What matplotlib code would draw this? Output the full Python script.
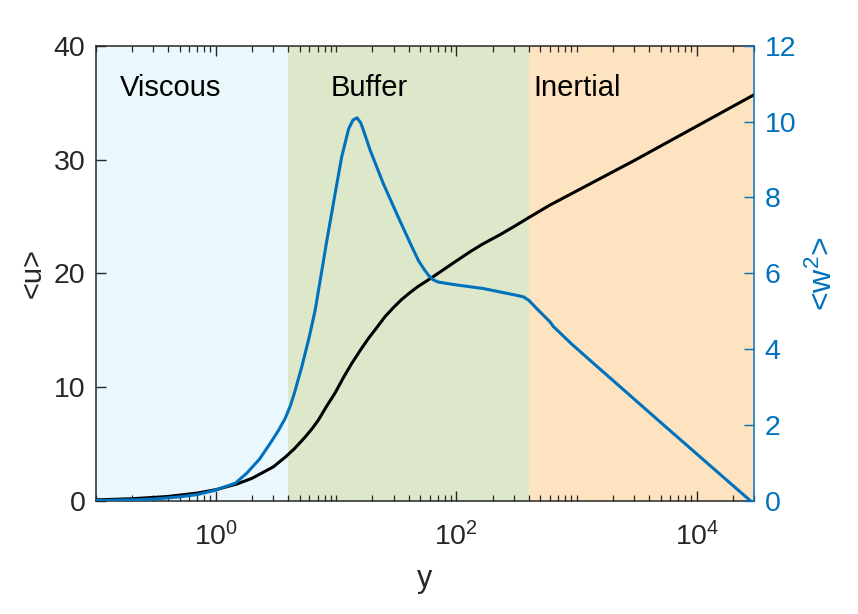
import matplotlib
matplotlib.use("Agg")
import matplotlib.pyplot as plt
from matplotlib.ticker import FixedLocator, LogFormatterSciNotation, NullFormatter

plt.rcParams['font.family'] = ['Liberation Sans', 'DejaVu Sans']
plt.rcParams['mathtext.fontset'] = 'custom'
plt.rcParams['mathtext.rm'] = 'Liberation Sans'
plt.rcParams['mathtext.it'] = 'Liberation Sans'
plt.rcParams['mathtext.bf'] = 'Liberation Sans'

# ---- data ----
y_u = [0.1, 0.2, 0.4, 0.7, 1.0, 1.5, 2.0, 3.0, 3.77, 4.5, 5.5, 6.3, 7.1, 8.3, 9.8,
       11.5, 13.5, 16, 18.6, 22, 25.5, 30, 35, 41, 48, 56, 66, 80, 97, 130, 167,
       231, 300, 400, 600, 3000, 30000]
u_mean = [0.1, 0.2, 0.4, 0.7, 1.0, 1.5, 2.0, 3.0, 3.85, 4.6, 5.6, 6.35, 7.1, 8.3, 9.5,
          10.85, 12.1, 13.3, 14.3, 15.3, 16.2, 17.0, 17.7, 18.3, 18.85, 19.3, 19.8, 20.4, 21.0, 21.9, 22.6,
          23.4, 24.1, 24.9, 26.0, 29.9, 35.7]

y_w = [0.1, 0.2, 0.3, 0.5, 0.7, 0.95, 1.45, 1.8, 2.3, 2.8, 3.3, 3.77, 4.15, 4.5, 5.19, 6.0,
       6.69, 7.85, 8.37, 9.8, 11.1, 12.7, 13.8, 14.9, 16.0, 16.9, 19.2, 24.7, 31.9, 41.2, 48.3,
       54, 58.6, 64, 70.8, 97.5, 167, 231, 318, 361, 400, 466, 601, 640, 900, 1291, 5260, 28000]
w2_mean = [0.012, 0.03, 0.05, 0.11, 0.17, 0.27, 0.47, 0.73, 1.1, 1.5, 1.85, 2.18, 2.5, 2.85, 3.55, 4.35,
           5.03, 6.34, 6.87, 8.1, 9.06, 9.81, 10.04, 10.1, 9.97, 9.76, 9.24, 8.36, 7.57, 6.8, 6.34,
           6.1, 5.95, 5.83, 5.77, 5.7, 5.6, 5.51, 5.42, 5.38, 5.29, 5.07, 4.72, 4.6, 4.15, 3.71, 2.01, 0.0]

regions = ['Viscous', 'Buffer', 'Inertial']
region_edges = [0.1, 4, 400, 30000]
region_colors = ['#EAF8FE', '#DDE8CB', '#FDE3C0']
label_x = [0.16, 9.0, 440]
label_y = 36.3

blue = '#0072BD'
dark = '#262626'
FS = 20.5

fig = plt.figure(figsize=(8.58, 6.14), dpi=100)
ax = fig.add_axes([0.1115, 0.184, 0.7676, 0.7416])
ax2 = ax.twinx()

for i, name in enumerate(regions):
    ax.axvspan(region_edges[i], region_edges[i + 1], color=region_colors[i], lw=0, zorder=0)
    ax.text(label_x[i], label_y, name, fontsize=21, color='black', va='center', ha='left', zorder=3)

ax.plot(y_u, u_mean, color='black', lw=2.2, zorder=2)
ax2.plot(y_w, w2_mean, color=blue, lw=2.2, clip_on=True)

ax.set_xscale('log')
ax.set_xlim(0.1, 30000)
ax.set_ylim(0, 40)
ax2.set_ylim(0, 12)

ax.xaxis.set_major_locator(FixedLocator([1, 100, 10000]))
ax.xaxis.set_major_formatter(LogFormatterSciNotation())
minors = []
for d in range(-1, 5):
    for m in range(1, 10):
        v = m * 10.0 ** d
        if v in (1, 100, 10000):
            continue
        if 0.1 <= v <= 30000:
            minors.append(v)
ax.xaxis.set_minor_locator(FixedLocator(minors))
ax.xaxis.set_minor_formatter(NullFormatter())

ax.set_yticks([0, 10, 20, 30, 40])
ax2.set_yticks([0, 2, 4, 6, 8, 10, 12])

ax.tick_params(axis='x', which='both', direction='in', top=True, colors=dark, labelsize=FS, pad=15)
ax.tick_params(axis='x', which='major', length=7, width=1)
ax.tick_params(axis='x', which='minor', length=4, width=0.9)
ax.tick_params(axis='y', which='both', direction='in', right=False, colors=dark, labelsize=FS, length=7, width=1, pad=7.5)
ax2.tick_params(axis='y', which='both', direction='in', colors=blue, labelsize=FS, length=7, width=1, pad=7.5)

for s in ['left', 'bottom', 'top']:
    ax.spines[s].set_color(dark)
    ax.spines[s].set_linewidth(1.1)
ax.spines['right'].set_visible(False)
for s in ['left', 'bottom', 'top']:
    ax2.spines[s].set_visible(False)
ax2.spines['right'].set_color(blue)
ax2.spines['right'].set_linewidth(1.1)

ax.set_xlabel('y', fontsize=22, color=dark, labelpad=9)
ax.set_ylabel('<u>', fontsize=21, color=dark, labelpad=5)
ax2.set_ylabel(r'<w$^{2}$>', fontsize=23, color=blue, labelpad=8)

fig.savefig('out.png', dpi=100)
